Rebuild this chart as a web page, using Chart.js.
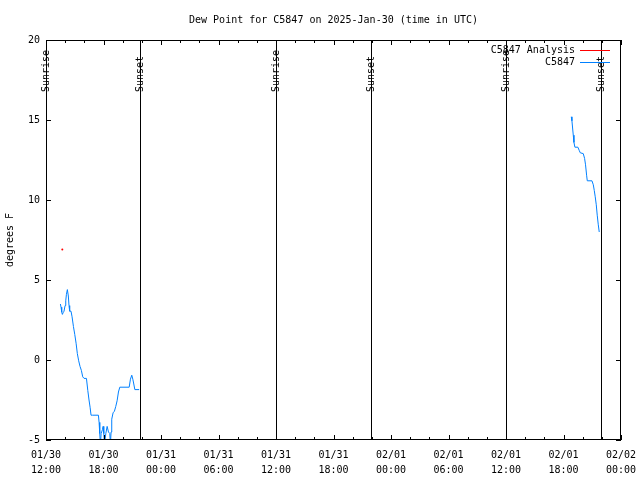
<!DOCTYPE html>
<html><head><meta charset="utf-8">
<script src="https://cdn.jsdelivr.net/npm/chart.js@4/dist/chart.umd.min.js"></script>
<style>html,body{margin:0;padding:0;background:#fff;}canvas{display:block;}</style>
</head><body>
<canvas id="c" width="640" height="480"></canvas>
<script>
const titleText = 'Dew Point for C5847 on 2025-Jan-30 (time in UTC)';
const yAxisTitle = 'degrees F';
// x values are hours after 2025-01-30 12:00 UTC
const xTickDates = ['01/30','01/30','01/31','01/31','01/31','01/31','02/01','02/01','02/01','02/01','02/02'];
const xTickTimes = ['12:00','18:00','00:00','06:00','12:00','18:00','00:00','06:00','12:00','18:00','00:00'];
const sunEventNames = ['Sunrise','Sunset','Sunrise','Sunset','Sunrise','Sunset'];
const sunEventHours = [0.02, 9.83, 24.03, 33.9, 48.03, 57.92];
const legendNames = ['C5847 Analysis','C5847'];
const analysisHours = [1.70];
const analysisDewF = [6.9];
const obsHours = [1.50,1.57,1.64,1.71,1.78,1.88,1.99,2.06,2.13,2.23,2.33,2.40,2.47,2.61,2.72,2.86,3.00,3.14,3.27,3.41,3.55,3.69,3.83,3.97,4.22,4.36,4.49,4.60,4.70,4.84,5.47,5.54,5.61,5.68,5.75,5.89,5.96,6.03,6.10,6.24,6.38,6.52,6.66,6.72,6.79,6.86,7.00,7.14,7.28,7.42,7.56,7.70,8.68,8.81,8.95,9.06,9.16,9.27,9.72,
  30.0,
  54.81,54.88,54.95,55.02,55.09,55.19,55.50,55.64,55.75,56.06,56.20,56.30,56.41,56.48,56.97,57.11,57.21,57.31,57.42,57.52,57.63,57.73];
const obsDewF = [3.5,3.3,3.0,2.85,2.95,3.05,3.4,3.7,4.1,4.4,4.0,3.4,3.05,3.05,2.7,2.1,1.6,1.05,0.4,-0.05,-0.4,-0.65,-1.05,-1.15,-1.15,-1.9,-2.5,-2.95,-3.45,-3.45,-3.45,-3.9,-4.6,-5.3,-4.6,-4.35,-4.15,-4.6,-5.3,-4.6,-4.15,-4.5,-4.6,-5.3,-4.5,-3.7,-3.3,-3.2,-2.9,-2.55,-2.0,-1.7,-1.7,-1.2,-0.95,-1.2,-1.5,-1.85,-1.85,
  null,
  15.2,14.95,14.5,14.05,13.6,13.3,13.3,13.1,12.95,12.9,12.6,12.2,11.55,11.2,11.2,10.95,10.6,10.2,9.7,9.05,8.45,8.0];

const FONT = '"DejaVu Sans Mono", monospace';
const obsColor = '#0080ff';
const anaColor = '#ff0000';

const decor = {
  id: 'decor',
  afterDatasetsDraw(chart) {
    const {ctx, chartArea: a, scales: {x, y}} = chart;
    ctx.save();
    ctx.strokeStyle = '#000';
    ctx.lineWidth = 1;
    sunEventHours.forEach(h => {
      const px = Math.round(x.getPixelForValue(h)) + 0.5;
      ctx.beginPath(); ctx.moveTo(px, a.top); ctx.lineTo(px, a.bottom); ctx.stroke();
    });
    ctx.strokeRect(a.left + 0.5, a.top + 0.5, a.right - a.left - 1, a.bottom - a.top - 1);
    for (let h = 0; h <= 60; h += 2) {
      const px = Math.round(x.getPixelForValue(h)) + 0.5;
      const len = (h % 6 === 0) ? 5 : 3;
      ctx.beginPath();
      ctx.moveTo(px, a.bottom); ctx.lineTo(px, a.bottom - len);
      ctx.moveTo(px, a.top); ctx.lineTo(px, a.top + len);
      ctx.stroke();
    }
    for (let v = -5; v <= 20; v += 5) {
      const py = Math.round(y.getPixelForValue(v)) + 0.5;
      ctx.beginPath();
      ctx.moveTo(a.left, py); ctx.lineTo(a.left + 5, py);
      ctx.moveTo(a.right, py); ctx.lineTo(a.right - 5, py);
      ctx.stroke();
    }
    ctx.fillStyle = '#000';
    ctx.font = '10px ' + FONT;
    sunEventHours.forEach((h, i) => {
      const px = x.getPixelForValue(h);
      ctx.save();
      ctx.translate(Math.round(px) + 0.5, 92);
      ctx.rotate(-Math.PI / 2);
      ctx.textAlign = 'left';
      ctx.textBaseline = 'middle';
      ctx.fillText(sunEventNames[i], 0, 0);
      ctx.restore();
    });
    ctx.textAlign = 'center';
    ctx.textBaseline = 'middle';
    ctx.fillText(titleText, (a.left + a.right) / 2, 20);
    const legColors = [anaColor, obsColor];
    const legY = [50.5, 62.5];
    ctx.textAlign = 'right';
    legendNames.forEach((n, i) => {
      ctx.fillStyle = '#000';
      ctx.fillText(n, 575, legY[i]);
      ctx.strokeStyle = legColors[i];
      ctx.beginPath(); ctx.moveTo(580, Math.round(legY[i]) - 0.5); ctx.lineTo(610, Math.round(legY[i]) - 0.5); ctx.stroke();
    });
    ctx.restore();
  }
};

new Chart(document.getElementById('c'), {
  type: 'line',
  data: {
    datasets: [
      {
        label: legendNames[0],
        data: analysisHours.map((h, i) => ({x: h, y: analysisDewF[i]})),
        borderColor: anaColor, backgroundColor: anaColor,
        pointRadius: 1, pointBorderWidth: 0, showLine: false
      },
      {
        label: legendNames[1],
        data: obsHours.map((h, i) => ({x: h, y: obsDewF[i]})),
        borderColor: obsColor, borderWidth: 1, pointRadius: 0,
        tension: 0, spanGaps: false, fill: false
      }
    ]
  },
  options: {
    responsive: false, animation: false, devicePixelRatio: 1,
    layout: {padding: {top: 40, right: 19, left: 0, bottom: 0}},
    plugins: {legend: {display: false}, tooltip: {enabled: false}, title: {display: false}},
    scales: {
      x: {
        type: 'linear', min: 0, max: 60,
        afterFit(s) { s.height = 40; s.paddingLeft = 0; s.paddingRight = 0; },
        border: {display: false},
        grid: {display: false, drawTicks: false},
        ticks: {
          stepSize: 6, autoSkip: false, maxRotation: 0, padding: 8, color: '#000',
          font: {family: FONT, size: 10, lineHeight: 1.5},
          callback: v => { const i = Math.round(v / 6); return [xTickDates[i], xTickTimes[i]]; }
        }
      },
      y: {
        min: -5, max: 20,
        afterFit(s) { s.width = 46; s.paddingTop = 0; s.paddingBottom = 0; },
        border: {display: false},
        grid: {display: false, drawTicks: false},
        ticks: {stepSize: 5, padding: 6, color: '#000', font: {family: FONT, size: 10}},
        title: {display: true, text: yAxisTitle, color: '#000', font: {family: FONT, size: 10}, padding: {top: 4, bottom: 4}}
      }
    }
  },
  plugins: [decor]
});
</script>
</body></html>
